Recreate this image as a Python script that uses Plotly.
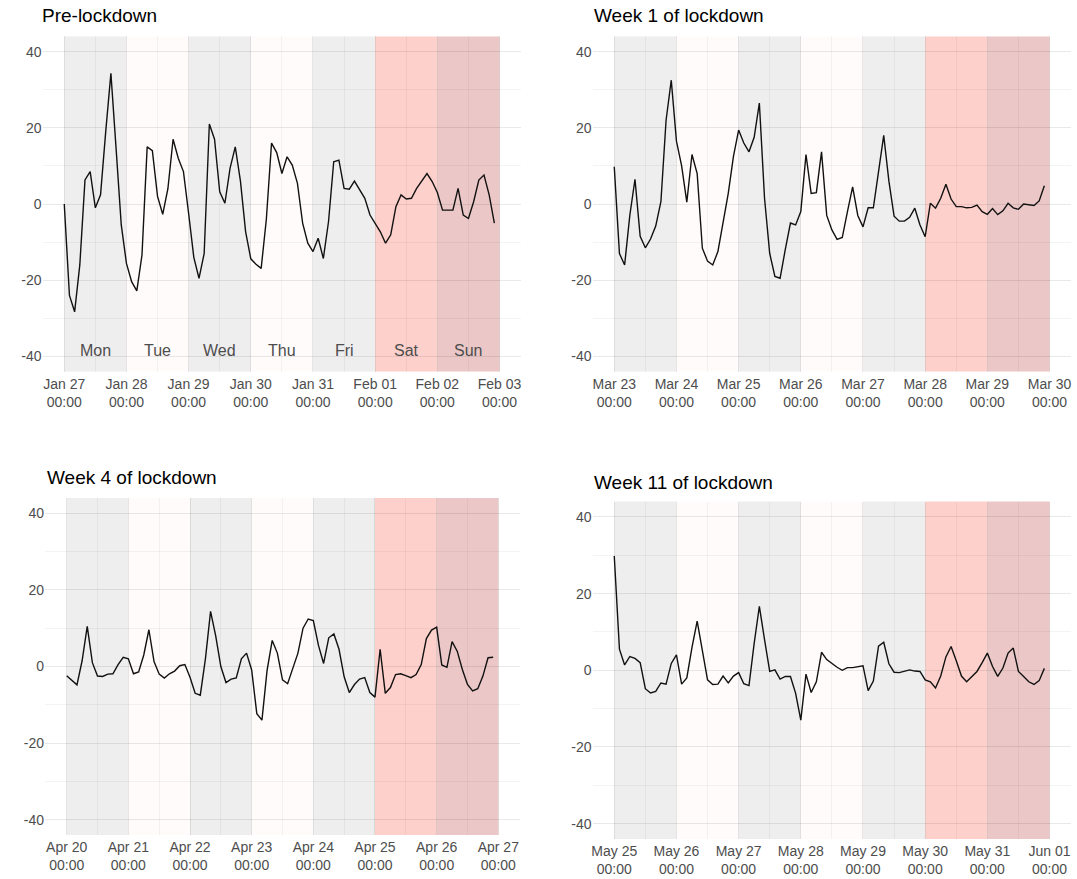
import pandas as pd
import plotly.graph_objects as go

# ---------------------------------------------------------------------------
# Data: activity index sampled every 2 hours, Monday 00:00 to Sunday 22:00
# ---------------------------------------------------------------------------
week_starts = ["2020-01-27", "2020-03-23", "2020-04-20", "2020-05-25"]
week_titles = ["Pre-lockdown", "Week 1 of lockdown", "Week 4 of lockdown", "Week 11 of lockdown"]
day_names = ["Mon", "Tue", "Wed", "Thu", "Fri", "Sat", "Sun"]

pre_lockdown = [
    0, -24, -28.3, -16, 6.3, 8.5, -1, 2.4, 19, 34.3, 14.6, -5.5,
    -15.6, -20.4, -22.8, -13.4, 15, 14, 2, -2.7, 4, 17, 12, 8.5,
    -2.5, -14, -19.5, -13, 21, 17, 3.2, 0.2, 9.4, 15, 6, -7.3,
    -14.4, -15.8, -16.9, -4, 16, 13.5, 8, 12.4, 10.2, 5.4, -5, -10.3,
    -12.5, -9, -14.3, -4.6, 11.1, 11.5, 4.1, 3.9, 6, 3.7, 1.5, -2.9,
    -5, -7.3, -10.3, -8.1, -0.7, 2.4, 1.3, 1.5, 4.1, 5.9, 8, 5.9,
    3, -1.6, -1.6, -1.6, 4.1, -2.9, -3.8, 0.6, 6.3, 7.6, 2.4, -5,
]

week_1 = [
    9.8, -13, -16, -3, 6.5, -8.5, -11.5, -9.2, -5.8, 0.6, 22, 32.5,
    16.5, 10, 0.5, 13, 8, -11.6, -15, -16, -12.5, -4.8, 2.8, 12.5,
    19.4, 16, 13.7, 17.5, 26.5, 1.5, -13, -19, -19.5, -12, -5, -5.5,
    -2, 13, 2.8, 3, 13.7, -3, -6.8, -9.3, -8.8, -2, 4.5, -3,
    -6, -1, -1, 8.5, 18, 6, -3.2, -4.5, -4.5, -3.5, -1.1, -5.5,
    -8.6, 0.2, -1.1, 1.5, 5.2, 1.3, -0.7, -0.7, -1, -0.9, -0.3, -2,
    -2.7, -1.2, -2.8, -1.8, 0.2, -1, -1.4, 0, -0.3, -0.4, 0.8, 4.8,
]

week_4 = [
    -2.4, -3.5, -4.8, 1.5, 10.5, 1, -2.5, -2.6, -2, -1.9, 0.5, 2.4,
    2, -1.9, -1.4, 3, 9.6, 1.3, -2, -3, -1.9, -1.2, 0.2, 0.5,
    -2.8, -7, -7.5, 2, 14.4, 8, 0, -4.2, -3.3, -3, 2, 3.5,
    -0.9, -12.3, -14, -1, 6.8, 3.5, -3.5, -4.5, -0.5, 3.5, 10, 12.4,
    12, 5.5, 0.8, 7.5, 8.5, 4.5, -2.7, -6.8, -4.7, -3.3, -2.9, -6.8,
    -8, 4.5, -7, -5.5, -2.1, -1.9, -2.4, -2.9, -2.1, 0.5, 7.3, 9.5,
    10.3, 0.4, -0.2, 6.5, 4, -0.8, -4.7, -6.4, -5.8, -2.5, 2.3, 2.4,
]

week_11 = [
    29.8, 5.5, 1.4, 3.6, 3.1, 2, -4.8, -5.9, -5.5, -3.3, -3.6, 1.8,
    4, -3.6, -2, 6, 12.8, 4.8, -2.5, -3.7, -3.6, -1.5, -3.3, -1.5,
    -0.6, -3.5, -4, 7, 16.7, 8, -0.3, 0.1, -2.3, -1.6, -1.6, -6,
    -13, -1, -5.8, -3, 4.7, 2.8, 1.7, 0.8, 0, 0.7, 0.7, 1,
    1.2, -5.3, -2.8, 6.3, 7.3, 1.7, -0.5, -0.6, -0.3, 0.1, -0.2, -0.3,
    -2.5, -3, -4.6, -1.5, 3.5, 6.2, 2.5, -1.5, -3, -1.7, -0.3, 2,
    4.5, 1, -1.6, 0.6, 4.5, 5.8, -0.3, -1.6, -3, -3.7, -2.7, 0.5,
]

series = [pre_lockdown, week_1, week_4, week_11]

y_ticks = [-40, -20, 0, 20, 40]
y_minor = [-30, -10, 10, 30]

# ---------------------------------------------------------------------------
# Styling
# ---------------------------------------------------------------------------
W, H = 1077, 879
FONT = "Liberation Sans, Arial, Helvetica, sans-serif"
TICK_COLOR = "#4D4D4D"
# translucent grid so lines darken over the shaded day bands
GRID_MAJOR = "rgba(0,0,0,0.085)"
GRID_MINOR = "rgba(0,0,0,0.045)"

# day band fills: weekdays alternate grey / faint pink, weekend in reds
day_fills = [
    "#EFEEEF",
    "#FFFBFB",
    "#EFEEEF",
    "#FFFBFB",
    "#EFEEEF",
    "#FDD0CB",
    "#EBC8C7",
]

# panel boxes in pixels: (left, top, right, bottom)
boxes = [
    (42.5, 36.4, 521.3, 371.6),
    (592.5, 36.4, 1071.3, 371.6),
    (45.1, 498.0, 519.9, 835.0),
    (592.5, 501.6, 1071.3, 839.0),
]
title_pos = [(40, 16), (592, 16), (45, 477), (592, 482)]

fig = go.Figure()
shapes = []
annotations = []
layout_axes = {}

for i, (start, title, values, box) in enumerate(zip(week_starts, week_titles, series, boxes)):
    n = i + 1
    suffix = "" if n == 1 else str(n)
    t0 = pd.Timestamp(start)
    times = pd.date_range(t0, periods=len(values), freq="2h")
    day_edges = [t0 + pd.Timedelta(days=d) for d in range(8)]
    noons = [t0 + pd.Timedelta(days=d, hours=12) for d in range(7)]

    fig.add_trace(go.Scatter(
        x=times, y=values, mode="lines",
        line=dict(color="#111111", width=1.4),
        xaxis=f"x{suffix}", yaxis=f"y{suffix}",
        showlegend=False, hoverinfo="x+y",
    ))

    l, t, r, b = box
    layout_axes[f"xaxis{suffix}"] = dict(
        domain=[l / W, r / W],
        anchor=f"y{suffix}",
        type="date",
        range=[t0 - pd.Timedelta(hours=8.4), day_edges[-1] + pd.Timedelta(hours=8.4)],
        tickmode="array",
        tickvals=day_edges,
        ticktext=[f"{d:%b %d}<br>00:00" for d in day_edges],
        tickfont=dict(family=FONT, size=14, color=TICK_COLOR),
        ticklabelstandoff=2,
        showgrid=True, gridcolor=GRID_MAJOR, gridwidth=1.3,
        minor=dict(tickmode="array", tickvals=noons, showgrid=True,
                   gridcolor=GRID_MINOR, gridwidth=1),
        zeroline=False, showline=False, ticks="",
    )
    layout_axes[f"yaxis{suffix}"] = dict(
        domain=[1 - b / H, 1 - t / H],
        anchor=f"x{suffix}",
        range=[-44, 44],
        tickmode="array",
        tickvals=y_ticks,
        ticktext=[str(v) for v in y_ticks],
        tickfont=dict(family=FONT, size=14, color=TICK_COLOR),
        showgrid=True, gridcolor=GRID_MAJOR, gridwidth=1.3,
        minor=dict(tickmode="array", tickvals=y_minor, showgrid=True,
                   gridcolor=GRID_MINOR, gridwidth=1),
        zeroline=False, showline=False, ticks="",
    )

    # shaded day bands (drawn beneath the grid)
    for d in range(7):
        shapes.append(dict(
            type="rect", xref=f"x{suffix}", yref=f"y{suffix} domain",
            x0=day_edges[d], x1=day_edges[d + 1], y0=0, y1=1,
            fillcolor=day_fills[d], line=dict(width=0), layer="below",
        ))

    # panel title
    tx, ty = title_pos[i]
    annotations.append(dict(
        text=title, xref="paper", yref="paper",
        x=tx / W, y=1 - ty / H, xanchor="left", yanchor="middle",
        showarrow=False, font=dict(family=FONT, size=19, color="#000000"),
    ))

    # weekday names on the first panel only
    if i == 0:
        for d in range(7):
            annotations.append(dict(
                text=day_names[d], xref=f"x{suffix}", yref=f"y{suffix}",
                x=noons[d], y=-38.5, showarrow=False,
                font=dict(family=FONT, size=16, color=TICK_COLOR),
            ))

fig.update_layout(
    width=W, height=H,
    margin=dict(l=0, r=0, t=0, b=0),
    paper_bgcolor="white", plot_bgcolor="white",
    shapes=shapes, annotations=annotations,
    **layout_axes,
)

fig.write_html("out.html")
